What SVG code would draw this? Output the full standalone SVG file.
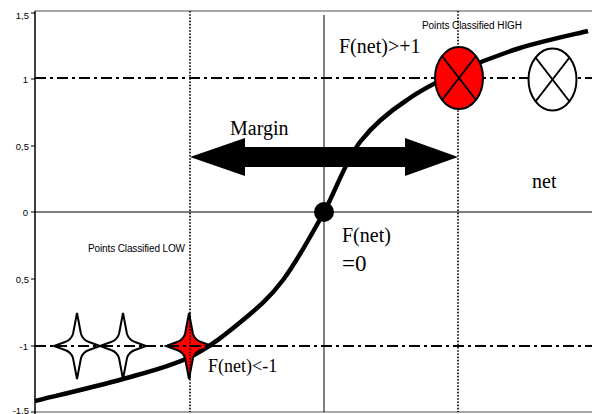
<svg xmlns="http://www.w3.org/2000/svg" width="592" height="414" viewBox="0 0 592 414">
<style>
.tick{font-family:"Liberation Sans",Arial,sans-serif;font-size:9.5px;fill:#000;text-anchor:end}
.small{font-family:"Liberation Sans",Arial,sans-serif;font-size:10px;fill:#000}
.serif{font-family:"Liberation Serif","Times New Roman",serif;fill:#000}
.dashdot{stroke:#000;stroke-width:2;stroke-dasharray:11,4,3,4;fill:none}
.dotted{stroke:#000;stroke-width:1.6;stroke-dasharray:1.6,1.6;fill:none}
.mk{stroke:#000;stroke-width:2}
</style>
<defs>
<path id="star" d="M0,-33 L4,-12 Q6,-6 12,-4 L23,0 L12,4 Q6,6 4,12 L0,33 L-4,12 Q-6,6 -12,4 L-23,0 L-12,-4 Q-6,-6 -4,-12 Z"/>
</defs>
<rect width="592" height="414" fill="#fff"/>
<g id="axes">
<line x1="35" y1="11" x2="592" y2="11" stroke="#888" stroke-width="1.5"/>
<line x1="35" y1="412" x2="592" y2="412" stroke="#888" stroke-width="1.5"/>
<line x1="35" y1="212" x2="592" y2="212" stroke="#555" stroke-width="1.5"/>
<line x1="35" y1="11" x2="35" y2="414" stroke="#000" stroke-width="1.5"/>
<line x1="324" y1="15" x2="324" y2="412" stroke="#000" stroke-width="1"/>
<g stroke="#000" stroke-width="1">
<line x1="31" y1="13" x2="35" y2="13"/>
<line x1="31" y1="79" x2="35" y2="79"/>
<line x1="31" y1="146" x2="35" y2="146"/>
<line x1="31" y1="212" x2="35" y2="212"/>
<line x1="31" y1="279" x2="35" y2="279"/>
<line x1="31" y1="346" x2="35" y2="346"/>
<line x1="31" y1="412" x2="35" y2="412"/>
</g>
<text class="tick" x="29" y="19">1,5</text>
<text class="tick" x="28" y="83">1</text>
<text class="tick" x="29" y="150">0,5</text>
<text class="tick" x="28" y="216">0</text>
<text class="tick" x="29" y="283">0,5</text>
<text class="tick" x="28" y="350">-1</text>
<text class="tick" x="29" y="413.5">-1,5</text>
</g>
<g id="connectors">
<line class="dashdot" x1="35" y1="78" x2="592" y2="78"/>
<line class="dashdot" x1="35" y1="346" x2="592" y2="346"/>
<line class="dotted" x1="190" y1="11" x2="190" y2="412"/>
<line class="dotted" x1="458" y1="11" x2="458" y2="412"/>
<path id="sigmoid" fill="none" stroke="#000" stroke-width="4.5" d="M35,401 C49.7,397.3 97.2,386.3 123,379 C148.8,371.7 170,366.8 190,357 C210,347.2 227.5,332.8 243,320 C258.5,307.2 269.5,298 283,280 C296.5,262 311.7,234.5 324,212 C336.3,189.5 345,162 360,142 C374,124 390.2,111 407,100 C423.8,88 439.2,80.7 458,72 C476.8,63.3 498.3,54.8 520,48 C541.7,41.2 576.7,33.8 588,31"/>
<polygon id="margin-arrow" fill="#000" points="190,157 245,138 245,147 405,147 405,138 458,157 405,176 405,167 245,167 245,176"/>
</g>
<g id="origin-point"><circle cx="324" cy="212" r="10" fill="#000"/></g>
<g id="high-red">
<ellipse cx="459" cy="78" rx="24" ry="31" fill="#ff0000" class="mk"/>
<line class="mk" x1="442" y1="56" x2="476" y2="100"/>
<line class="mk" x1="476" y1="56" x2="442" y2="100"/>
</g>
<g id="high-white">
<ellipse cx="552.5" cy="79.5" rx="24" ry="31" fill="#fff" class="mk"/>
<line class="mk" x1="535.5" y1="57.5" x2="569.5" y2="101.5"/>
<line class="mk" x1="569.5" y1="57.5" x2="535.5" y2="101.5"/>
</g>
<g id="low-star-1"><use href="#star" x="77" y="346" fill="#fff" stroke="#000" stroke-width="2"/><line class="dashdot" x1="56" y1="346" x2="98" y2="346" stroke-width="1.5"/></g>
<g id="low-star-2"><use href="#star" x="123" y="346" fill="#fff" stroke="#000" stroke-width="2"/><line class="dashdot" x1="102" y1="346" x2="144" y2="346" stroke-width="1.5"/></g>
<g id="low-star-red"><use href="#star" x="189" y="346" fill="#ff0000" stroke="#000" stroke-width="2"/><line class="dashdot" x1="168" y1="346" x2="210" y2="346" stroke-width="1.5"/><line class="dotted" x1="190" y1="313" x2="190" y2="379"/></g>
<g id="labels">
<text class="serif" x="230" y="135" font-size="20">Margin</text>
<text class="serif" x="339" y="53" font-size="20">F(net)&gt;+1</text>
<text class="serif" x="532" y="188" font-size="20">net</text>
<text class="serif" x="342" y="242" font-size="20">F(net)</text>
<text class="serif" x="342" y="271" font-size="23">=0</text>
<text class="serif" x="208" y="372" font-size="18">F(net)&lt;-1</text>
<text class="small" x="422" y="29" textLength="100">Points Classified HIGH</text>
<text class="small" x="88" y="252" textLength="97">Points Classified LOW</text>
</g>
</svg>
